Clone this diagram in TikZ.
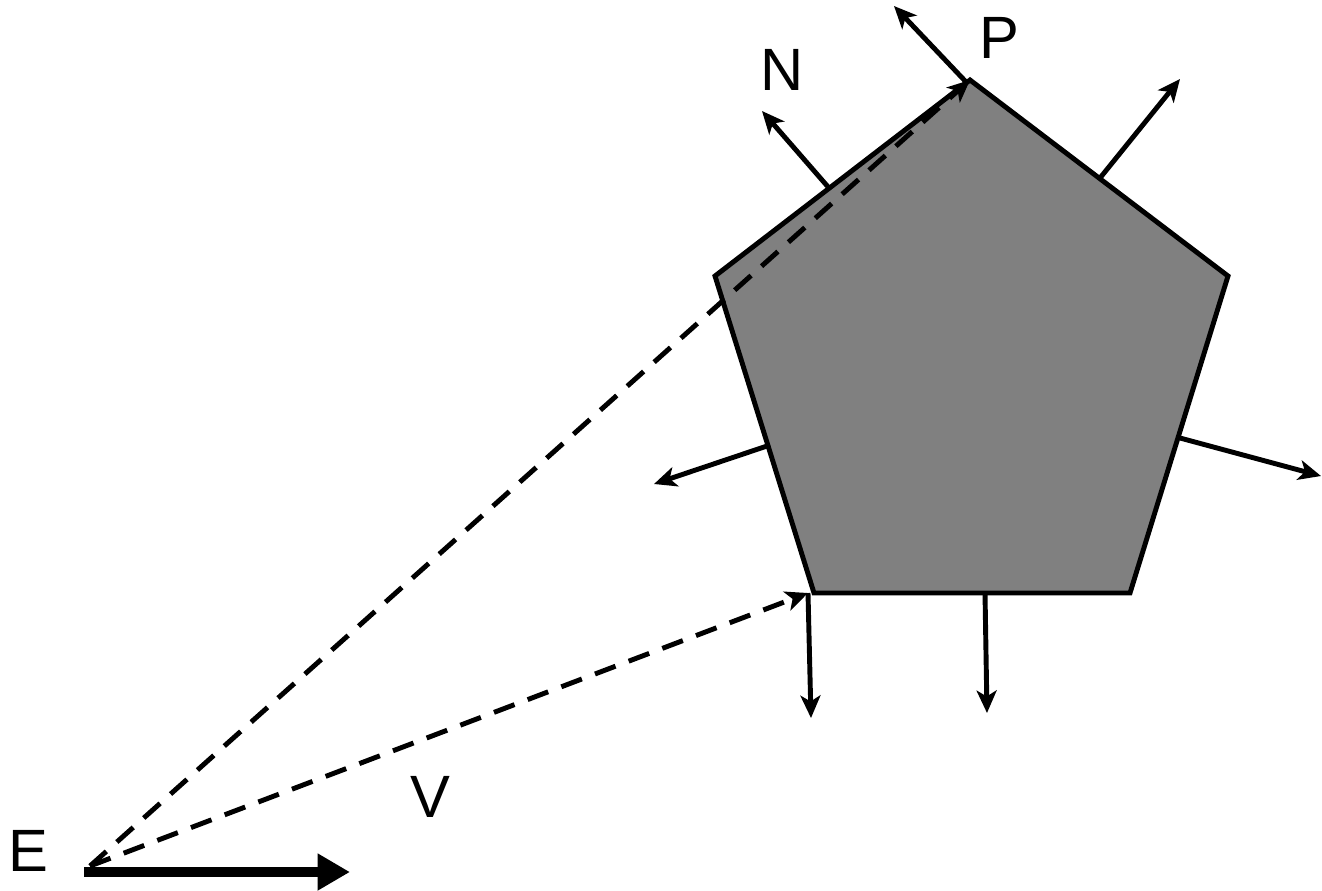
\documentclass[tikz,border=0pt]{standalone}
\usepackage{fontspec}
\setmainfont{Liberation Sans}
\usetikzlibrary{arrows.meta}
\tikzset{
  face/.style={draw, line width=2.8pt, fill=black!50, line join=miter},
  normal/.style={line width=2.8pt, -{Stealth[length=4.5mm, width=4mm, inset=1.2mm]}},
  ray/.style={line width=2.8pt, dash pattern=on 12.5pt off 8pt, -{Stealth[length=4.5mm, width=4mm, inset=1.2mm]}},
  viewdir/.style={line width=5.8pt, -{Triangle[length=6.5mm, width=7mm]}},
  lbl/.style={font=\fontsize{34}{40}\selectfont, inner sep=0pt}
}
\begin{document}
\begin{tikzpicture}[x=0.02cm, y=-0.02cm]
  \useasboundingbox (0,0) rectangle (1322,890);

  % pentagon
  \coordinate (p1) at (970,80);
  \coordinate (p2) at (1228,276);
  \coordinate (p3) at (1130,593);
  \coordinate (p4) at (814,593);
  \coordinate (p5) at (715,276);
  \draw[face] (p1) -- (p2) -- (p3) -- (p4) -- (p5) -- cycle;

  % normals
  \coordinate (n1a) at (968,84);    \coordinate (n1b) at (894,6);
  \coordinate (n2a) at (829,188);   \coordinate (n2b) at (762,111);
  \coordinate (n3a) at (1100,178);  \coordinate (n3b) at (1180,79);
  \coordinate (n4a) at (1180,438);  \coordinate (n4b) at (1321,476);
  \coordinate (n5a) at (985,593);   \coordinate (n5b) at (987,713);
  \coordinate (n6a) at (808,593);   \coordinate (n6b) at (811,718);
  \coordinate (n7a) at (770,445);   \coordinate (n7b) at (654,484);
  \foreach \i in {1,...,7}
    \draw[normal] (n\i a) -- (n\i b);

  % eye and rays
  \coordinate (E) at (90,866);
  \coordinate (Vend) at (350,872);
  \draw[ray] (E) -- (p1);
  \draw[ray] (E) -- (808,593);
  \draw[viewdir] (84,872) -- (Vend);

  % labels
  \node[lbl] (lN) at (782,70) {N};
  \node[lbl] (lP) at (999,38) {P};
  \node[lbl] (lE) at (28,851) {E};
  \node[lbl] (lV) at (430,797) {V};
\end{tikzpicture}
\end{document}
